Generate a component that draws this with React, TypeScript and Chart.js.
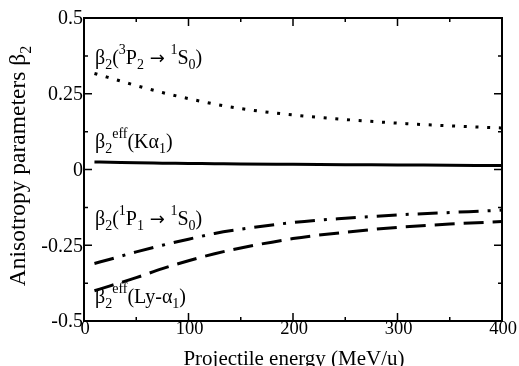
import React, { useEffect, useRef } from "react";
import { Chart, registerables } from "chart.js";

Chart.register(...registerables);

const energy = [10, 25, 50, 75, 100, 125, 150, 200, 250, 300, 350, 400];
const beta3P2 = [0.317, 0.302, 0.277, 0.254, 0.234, 0.216, 0.201, 0.18, 0.165, 0.153, 0.144, 0.137];
const betaKa = [0.025, 0.024, 0.022, 0.021, 0.02, 0.019, 0.018, 0.017, 0.016, 0.015, 0.014, 0.013];
const beta1P1 = [-0.31, -0.296, -0.272, -0.25, -0.23, -0.211, -0.197, -0.175, -0.161, -0.15, -0.142, -0.134];
const betaLy = [-0.4, -0.384, -0.357, -0.327, -0.301, -0.278, -0.259, -0.228, -0.207, -0.191, -0.18, -0.172];

const xMajorTicks = [0, 100, 200, 300, 400];
const xMinorTicks = [50, 150, 250, 350];
const yMajorTicks = [-0.5, -0.25, 0, 0.25, 0.5];
const yMinorTicks = [-0.375, -0.125, 0.125, 0.375];
const yTickLabels = ["-0.5", "-0.25", "0", "0.25", "0.5"];
const xTickLabels = ["0", "100", "200", "300", "400"];

const FONT = "'Liberation Serif', 'Times New Roman', serif";
const ARROW_FONT = "'DejaVu Sans', sans-serif";

type Seg = [string, "n" | "sub" | "sup" | "arr"];

function fontFor(k: string, size: number, small: number) {
  if (k === "arr") return `${size - 2}px ${ARROW_FONT}`;
  return `${k === "n" ? size : small}px ${FONT}`;
}

function richWidth(ctx: CanvasRenderingContext2D, segs: Seg[], size: number, small: number) {
  let w = 0;
  for (const [t, k] of segs) {
    ctx.font = fontFor(k, size, small);
    w += ctx.measureText(t).width;
  }
  return w;
}

function drawRich(ctx: CanvasRenderingContext2D, segs: Seg[], x: number, y: number, size: number, small: number, subOff: number, supOff: number) {
  ctx.textAlign = "left";
  ctx.textBaseline = "alphabetic";
  let cx = x;
  for (const [t, k] of segs) {
    ctx.font = fontFor(k, size, small);
    const dy = k === "sub" ? subOff : k === "sup" ? supOff : 0;
    ctx.fillText(t, cx, y + dy);
    cx += ctx.measureText(t).width;
  }
}

const labels: { segs: Seg[]; x: number; y: number }[] = [
  {
    segs: [["β", "n"], ["2", "sub"], ["(", "n"], ["3", "sup"], ["P", "n"], ["2", "sub"], [" → ", "arr"], ["1", "sup"], ["S", "n"], ["0", "sub"], [")", "n"]],
    x: 95, y: 64,
  },
  {
    segs: [["β", "n"], ["2", "sub"], ["eff", "sup"], ["(Kα", "n"], ["1", "sub"], [")", "n"]],
    x: 95, y: 148,
  },
  {
    segs: [["β", "n"], ["2", "sub"], ["(", "n"], ["1", "sup"], ["P", "n"], ["1", "sub"], [" → ", "arr"], ["1", "sup"], ["S", "n"], ["0", "sub"], [")", "n"]],
    x: 95, y: 225,
  },
  {
    segs: [["β", "n"], ["2", "sub"], ["eff", "sup"], ["(Ly-α", "n"], ["1", "sub"], [")", "n"]],
    x: 95, y: 303,
  },
];

const decorPlugin = {
  id: "decor",
  afterDatasetsDraw(chart: any) {
    const ctx: CanvasRenderingContext2D = chart.ctx;
    const { left, right, top, bottom } = chart.chartArea;
    const xs = chart.scales.x;
    const ys = chart.scales.y;
    ctx.save();
    ctx.strokeStyle = "#000";
    ctx.fillStyle = "#000";
    ctx.lineWidth = 1.5;
    const tick = (v: number, len: number, axis: "x" | "y") => {
      ctx.beginPath();
      if (axis === "x") {
        const p = xs.getPixelForValue(v);
        ctx.moveTo(p, bottom); ctx.lineTo(p, bottom - len);
        ctx.moveTo(p, top); ctx.lineTo(p, top + len);
      } else {
        const p = ys.getPixelForValue(v);
        ctx.moveTo(left, p); ctx.lineTo(left + len, p);
        ctx.moveTo(right, p); ctx.lineTo(right - len, p);
      }
      ctx.stroke();
    };
    xMajorTicks.forEach((v) => tick(v, 8, "x"));
    xMinorTicks.forEach((v) => tick(v, 4, "x"));
    yMajorTicks.forEach((v) => tick(v, 8, "y"));
    yMinorTicks.forEach((v) => tick(v, 4, "y"));
    ctx.lineWidth = 2;
    ctx.strokeRect(left, top, right - left, bottom - top);
    ctx.font = `20px ${FONT}`;
    ctx.textAlign = "right";
    ctx.textBaseline = "middle";
    yMajorTicks.forEach((v, i) => {
      ctx.fillText(yTickLabels[i], left - 1, ys.getPixelForValue(v) + 1);
    });
    ctx.font = `18.5px ${FONT}`;
    ctx.textAlign = "center";
    ctx.textBaseline = "alphabetic";
    xMajorTicks.forEach((v, i) => {
      ctx.fillText(xTickLabels[i], xs.getPixelForValue(v) + 1, bottom + 13);
    });
    ctx.font = `21px ${FONT}`;
    ctx.fillText("Projectile energy (MeV/u)", 294, 365);
    const ySegs: Seg[] = [["Anisotropy parameters β", "n"], ["2", "sub"]];
    ctx.save();
    ctx.translate(25, 166);
    ctx.rotate(-Math.PI / 2);
    const w = richWidth(ctx, ySegs, 23.5, 16);
    drawRich(ctx, ySegs, -w / 2, 0, 23.5, 16, 6, -9);
    ctx.restore();
    labels.forEach((l) => drawRich(ctx, l.segs, l.x, l.y, 20, 14, 5, -10));
    ctx.restore();
  },
};

export default function App() {
  const ref = useRef<HTMLCanvasElement>(null);
  useEffect(() => {
    document.body.style.margin = "0";
    const canvas = ref.current!;
    const mk = (vals: number[]) => energy.map((e, i) => ({ x: e, y: vals[i] }));
    const chart = new Chart(canvas, {
      type: "line",
      data: {
        datasets: [
          { data: mk(beta3P2), borderColor: "#000", borderWidth: 3, borderDash: [3, 8.7], pointRadius: 0, cubicInterpolationMode: "monotone" },
          { data: mk(betaKa), borderColor: "#000", borderWidth: 3, pointRadius: 0, cubicInterpolationMode: "monotone" },
          { data: mk(beta1P1), borderColor: "#000", borderWidth: 3, borderDash: [20, 9, 3, 9], pointRadius: 0, cubicInterpolationMode: "monotone" },
          { data: mk(betaLy), borderColor: "#000", borderWidth: 3, borderDash: [20, 9], pointRadius: 0, cubicInterpolationMode: "monotone" },
        ] as any,
      },
      options: {
        responsive: false,
        animation: false,
        layout: { padding: { left: 84, right: 17, top: 18, bottom: 45 } },
        plugins: { legend: { display: false }, tooltip: { enabled: false } },
        scales: {
          x: { type: "linear", min: 0, max: 400, display: false },
          y: { type: "linear", min: -0.5, max: 0.5, display: false },
        },
      },
      plugins: [decorPlugin],
    });
    return () => chart.destroy();
  }, []);
  return <canvas ref={ref} width={519} height={366} style={{ display: "block" }} />;
}
